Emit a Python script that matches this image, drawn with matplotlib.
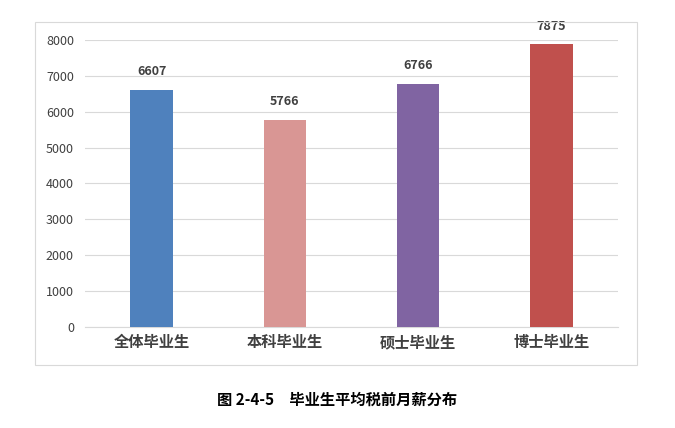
import matplotlib
matplotlib.use("Agg")
import matplotlib.pyplot as plt
from matplotlib.patches import Rectangle

plt.rcParams['font.family'] = ['Noto Sans CJK SC', 'DejaVu Sans']

categories = ["全体毕业生", "本科毕业生", "硕士毕业生", "博士毕业生"]
values = [6607, 5766, 6766, 7875]
colors = ["#4F81BD", "#D99694", "#8064A2", "#C0504D"]
yticks = [0, 1000, 2000, 3000, 4000, 5000, 6000, 7000, 8000]

fig = plt.figure(figsize=(6.75, 4.28), dpi=100)
fig.patches.append(Rectangle((35/675, 1-365/428), 602/675, 343/428, transform=fig.transFigure,
                             fill=False, edgecolor="#D9D9D9", linewidth=0.8))
ax = fig.add_axes([85/675, 1-327/428, 533/675, 287/428])
x = range(len(categories))
ax.bar(x, values, width=0.32, color=colors, zorder=3)
for i, v in zip(x, values):
    ax.text(i, v + 330, str(v), ha="center", va="bottom", fontsize=9, fontweight="bold", color="#404040")
ax.set_xlim(-0.5, 3.5)
ax.set_ylim(0, 8000)
ax.set_yticks(yticks)
ax.set_yticklabels([str(t) for t in yticks], fontsize=9, color="#404040")
ax.set_xticks(list(x))
ax.set_xticklabels(categories, fontsize=11, fontweight="bold", color="#404040")
ax.grid(axis="y", color="#D9D9D9", linewidth=0.8, zorder=0)
for s in ["top", "right", "left"]:
    ax.spines[s].set_visible(False)
ax.spines["bottom"].set_color("#D9D9D9")
ax.tick_params(axis="y", length=0, pad=8)
ax.tick_params(axis="x", length=0, pad=5)
fig.text(0.5, 1-400/428, "图 2-4-5　毕业生平均税前月薪分布", ha="center", va="center",
         fontsize=11, fontweight="bold", color="black")
fig.savefig("out.png", dpi=100)
